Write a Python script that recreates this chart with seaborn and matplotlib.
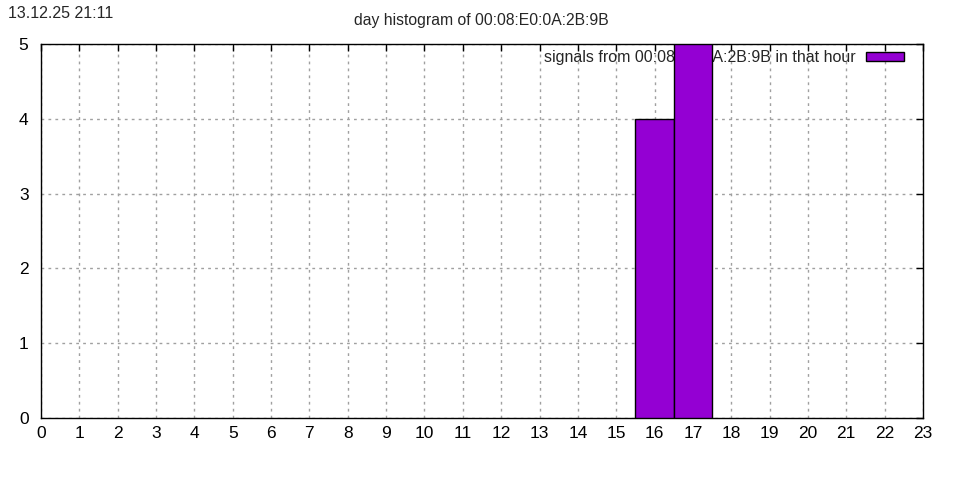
import pandas as pd
import matplotlib
matplotlib.use("Agg")
import matplotlib.pyplot as plt
import seaborn as sns

# Daten: Signale pro Stunde (0..22)
hours = list(range(23))
counts = [0, 0, 0, 0, 0, 0, 0, 0, 0, 0, 0, 0, 0, 0, 0, 0, 4, 5, 0, 0, 0, 0, 0]
x_ticks = list(range(24))
y_ticks = [0, 1, 2, 3, 4, 5]
stamp = "13.12.25 21:11"
title = "day histogram of 00:08:E0:0A:2B:9B"
label = "signals from 00:08:E0:0A:2B:9B in that hour"

df = pd.DataFrame({"hour": hours, "count": counts})
df = df[df["count"] > 0]

sns.set_theme(style="white")
plt.rcParams["font.family"] = ["Liberation Sans", "DejaVu Sans"]

fig = plt.figure(figsize=(9.6, 4.8), dpi=100)
ax = fig.add_axes([41 / 960, 1 - 418 / 480, 882 / 960, 374 / 480])

sns.barplot(data=df, x="hour", y="count", native_scale=True, width=1,
            color="#9400d3", saturation=1, edgecolor="black", linewidth=1,
            label=label, zorder=6, ax=ax)

ax.set_xlim(0, 23)
ax.set_ylim(0, 5)
ax.set_xticks(x_ticks)
ax.set_yticks(y_ticks)
ax.set_xlabel("")
ax.set_ylabel("")
ax.grid(True, color="#a0a0a0", linestyle=(0, (2, 3)), linewidth=1)
ax.set_axisbelow(True)
ax.tick_params(direction="in", length=5, width=1, color="black",
               labelsize=12.5, top=True, right=True, labelcolor="black")
ax.tick_params(axis="x", pad=6)
ax.tick_params(axis="y", pad=9)
for s in ax.spines.values():
    s.set_color("black")
    s.set_linewidth(1)
    s.set_visible(True)

leg = ax.legend(loc="upper right", frameon=False, fontsize=11.5, markerfirst=False,
                handlelength=2.4, handleheight=0.45, handletextpad=0.6,
                borderaxespad=0.0, borderpad=0.2, bbox_to_anchor=(0.982, 0.992))
leg.set_zorder(5)

fig.text(8 / 960, 1 - 13 / 480, stamp, fontsize=11.5, va="center", ha="left")
fig.text(481 / 960, 1 - 21 / 480, title, fontsize=11.3, va="center", ha="center")

fig.savefig("out.png", dpi=100)
